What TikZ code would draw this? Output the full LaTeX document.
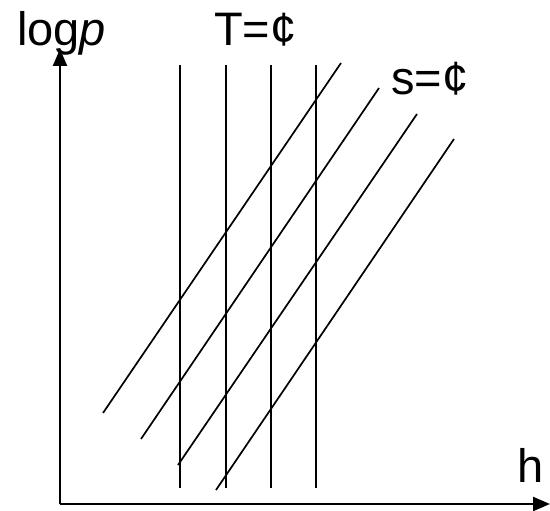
\documentclass[tikz,border=0pt]{standalone}
\usepackage{fontspec}
\setmainfont{Liberation Sans}
\usetikzlibrary{arrows.meta}
\begin{document}
\begin{tikzpicture}[x=1pt,y=-1pt,
  axis/.style={line width=2.4pt,-{Triangle[length=17pt,width=14pt]}},
  curve/.style={line width=1.7pt},
  lbl/.style={anchor=base west,inner sep=0pt,font=\fontsize{47}{56}\selectfont}]
\useasboundingbox (0,0) rectangle (550,511);
\coordinate (O) at (60,504);
\coordinate (Ytop) at (60,49);
\coordinate (Xend) at (550,504);
\draw[axis] (O) -- (Ytop);
\draw[axis] (O) -- (Xend);
\foreach \i/\x in {1/180,2/226,3/271,4/316}{
  \coordinate (ta\i) at (\x,65);
  \coordinate (tb\i) at (\x,488);
  \draw[curve] (ta\i) -- (tb\i);
}
\foreach \i/\xa/\ya/\xb/\yb in {1/103/413/341/63,2/141/439/379/88,3/178/465/417/114,4/216/490/454/139}{
  \coordinate (sa\i) at (\xa,\ya);
  \coordinate (sb\i) at (\xb,\yb);
  \draw[curve] (sa\i) -- (sb\i);
}
\node[lbl] (logp) at (17,46) {log\textit{p}};
\node[lbl] (T) at (214,46) {T=¢};
\node[lbl] (s) at (391,95) {s=¢};
\node[lbl] (h) at (517,482) {h};
\end{tikzpicture}
\end{document}
